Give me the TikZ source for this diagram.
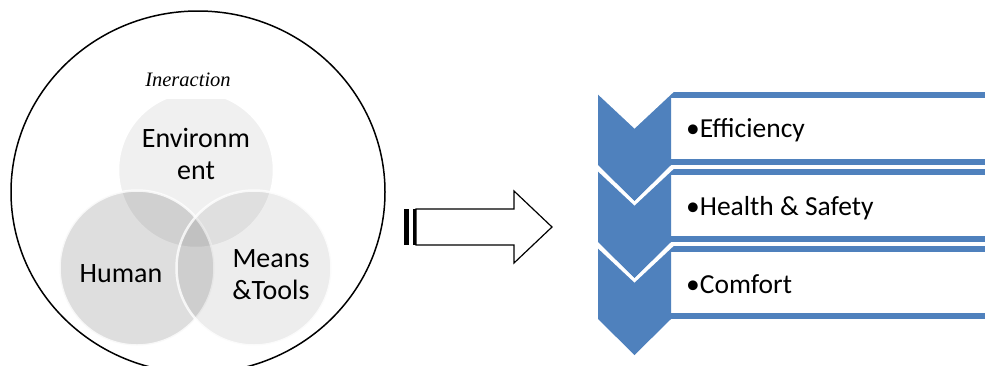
\documentclass[tikz,border=0pt]{standalone}
\usepackage{fontspec}
\setmainfont{Liberation Serif}
\newfontfamily\calibri{Carlito}
\definecolor{chevblue}{RGB}{79,129,189}
\begin{document}
\begin{tikzpicture}[x=1pt,y=-1pt,
  vennlabel/.style={font=\calibri\fontsize{28}{32}\selectfont, align=center, inner sep=0pt},
  listlabel/.style={font=\calibri\fontsize{27.5}{32}\selectfont, anchor=base west, inner sep=0pt},
  vennedge/.style={draw=white, line width=2.5pt},
  chevron/.style={fill=chevblue},
  chevgap/.style={draw=white, line width=3pt, line join=miter},
  listbox/.style={draw=chevblue, line width=6pt}]
\useasboundingbox (0,0) rectangle (985,365);
\clip (0,0) rectangle (985,365);
\fill[white] (0,0) rectangle (985,365);
% Drawing the venn circles
\begin{scope}
\clip (100,99) rectangle (300,260);
\fill[black, fill opacity=0.06] (196,170) circle (78);
\draw[vennedge] (196,170) circle (78);
\end{scope}
\fill[black, fill opacity=0.13] (137,268) circle (77.5);
\draw[vennedge, draw opacity=0.8] (137,268) circle (77.5);
\fill[black, fill opacity=0.07] (254,268) circle (77.5);
\draw[vennedge, draw opacity=0.8] (254,268) circle (77.5);
% Outer circle
\draw[line width=1.5pt] (198,192) ellipse [x radius=187, y radius=181];
% Venn labels
\node[font=\itshape\fontsize{20.5}{24}\selectfont, inner sep=0pt, anchor=base] (interaction) at (188,86) {Ineraction};
\node[vennlabel] (environment) at (196,153.5) {Environm\\ent};
\node[vennlabel] (human) at (121,274) {Human};
\node[vennlabel] (means) at (271,275) {Means\\\&Tools};
% Striped block arrow
\fill (404,209) rectangle (408.5,245);
\fill (413,209) rectangle (416,245);
\draw[line width=1.2pt, line join=miter] (416,209) -- (514,209) -- (514,191) -- (552,227) -- (514,263) -- (514,245) -- (416,245) -- cycle;
% Drawing list boxes and chevrons
\foreach \t in {92,169,246} {
  \draw[listbox] (671,\t+3) -- (1000,\t+3);
  \draw[listbox] (671,\t+70) -- (1000,\t+70);
  \fill[chevron] (598,\t) -- (634.5,\t+36) -- (671,\t) -- (671,\t+73) -- (634.5,\t+109) -- (598,\t+73) -- cycle;
  \draw[chevgap] (596,\t-1.5) -- (634.5,\t+34.5) -- (673,\t-1.5);
}
% List labels
\node[listlabel] (efficiency) at (686,137) {•Efficiency};
\node[listlabel] (health) at (686,215) {•Health \& Safety};
\node[listlabel] (comfort) at (686,293) {•Comfort};
\end{tikzpicture}
\end{document}
